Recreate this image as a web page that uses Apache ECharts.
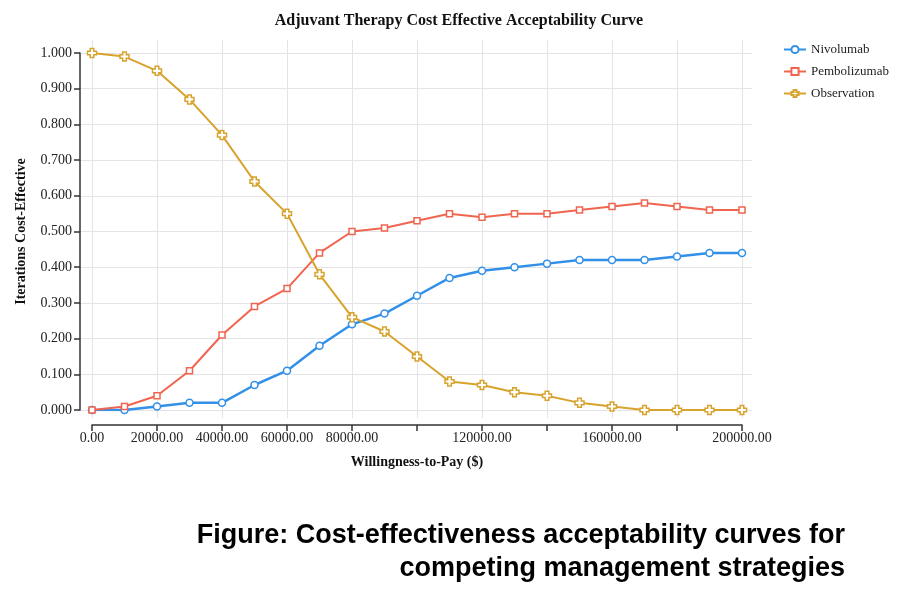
<!DOCTYPE html>
<html>
<head>
<meta charset="utf-8">
<script src="https://cdn.jsdelivr.net/npm/echarts@6/dist/echarts.min.js"></script>
<style>
html,body{margin:0;padding:0;background:#fff;}
#chart{width:906px;height:610px;}
</style>
</head>
<body>
<div id="chart"></div>
<script>
const wtp = [0,10000,20000,30000,40000,50000,60000,70000,80000,90000,100000,110000,120000,130000,140000,150000,160000,170000,180000,190000,200000];
const nivolumab = [0,0,0.01,0.02,0.02,0.07,0.11,0.18,0.24,0.27,0.32,0.37,0.39,0.40,0.41,0.42,0.42,0.42,0.43,0.44,0.44];
const pembolizumab = [0,0.01,0.04,0.11,0.21,0.29,0.34,0.44,0.50,0.51,0.53,0.55,0.54,0.55,0.55,0.56,0.57,0.58,0.57,0.56,0.56];
const observation = [1.00,0.99,0.95,0.87,0.77,0.64,0.55,0.38,0.26,0.22,0.15,0.08,0.07,0.05,0.04,0.02,0.01,0.00,0.00,0.00,0.00];
const xTicks = [0,20000,40000,60000,80000,100000,120000,140000,160000,180000,200000];
const xLabels = [0,20000,40000,60000,80000,120000,160000,200000];
const yTicks = [0,0.1,0.2,0.3,0.4,0.5,0.6,0.7,0.8,0.9,1.0];
const seriesNames = ['Nivolumab','Pembolizumab','Observation'];
const colors = ['#3290e8','#f0654f','#d8a32c'];

const serif = '"Liberation Serif","Times New Roman",serif';
const plus = 'path://M3,0 H7 V3 H10 V7 H7 V10 H3 V7 H0 V3 H3 Z';

function pairs(ys){ return wtp.map((x,i)=>[x, ys[i]]); }

const chart = echarts.init(document.getElementById('chart'), null, {renderer:'canvas'});
chart.setOption({
  backgroundColor:'#fff',
  animation:false,
  title:[
    {text:'Adjuvant Therapy Cost Effective Acceptability Curve', left:454, top:8, textAlign:'center',
     textStyle:{fontFamily:serif, fontWeight:'bold', fontSize:16, color:'#111'}}
  ],
  graphic:[
    {type:'text', x:845, y:519, silent:true,
     style:{text:'Figure: Cost-effectiveness acceptability curves for\ncompeting management strategies',
       align:'right', verticalAlign:'top', lineHeight:33,
       font:'bold 27px "Liberation Sans", Arial, sans-serif', fill:'#000'}}
  ],
  legend:{
    orient:'vertical', left:778, top:38, itemGap:9, itemWidth:22, itemHeight:9,
    data:seriesNames,
    textStyle:{fontFamily:serif, fontSize:13, color:'#222'}
  },
  grid:[
    {left:80, right:154, top:40, bottom:192, show:false},
    {left:92, right:164, top:53, bottom:200, show:false}
  ],
  xAxis:[
    {gridIndex:0, type:'value', min:-3692, max:203077,
     axisLine:{show:false, onZero:false}, axisLabel:{show:false},
     axisTick:{show:false, customValues:xTicks},
     splitLine:{show:true, lineStyle:{color:'#e4e4e8', width:1}}},
    {gridIndex:1, type:'value', min:0, max:200000, interval:20000, offset:15, position:'bottom',
     name:'Willingness-to-Pay ($)', nameLocation:'middle', nameGap:30,
     nameTextStyle:{fontFamily:serif, fontWeight:'bold', fontSize:14, color:'#111'},
     axisLine:{show:true, onZero:false, lineStyle:{color:'#333', width:1.5}},
     axisTick:{show:true, length:6, lineStyle:{color:'#333', width:1.5}, customValues:xTicks},
     axisLabel:{show:true, customValues:xLabels, fontFamily:serif, fontSize:14, color:'#222', margin:6,
       formatter:v=>Number(v).toFixed(2)},
     splitLine:{show:false}}
  ],
  yAxis:[
    {gridIndex:0, type:'value', min:-0.0224, max:1.0364,
     axisLine:{show:false, onZero:false}, axisLabel:{show:false},
     axisTick:{show:false, customValues:yTicks},
     splitLine:{show:true, lineStyle:{color:'#e4e4e8', width:1}}},
    {gridIndex:1, type:'value', min:0, max:1, interval:0.1, offset:12, position:'left',
     name:'Iterations Cost-Effective', nameLocation:'middle', nameGap:52,
     nameTextStyle:{fontFamily:serif, fontWeight:'bold', fontSize:14, color:'#111'},
     axisLine:{show:true, onZero:false, lineStyle:{color:'#333', width:1.5}},
     axisTick:{show:true, length:6, lineStyle:{color:'#333', width:1.5}},
     axisLabel:{show:true, fontFamily:serif, fontSize:14, color:'#222', margin:8,
       formatter:v=>Number(v).toFixed(3)},
     splitLine:{show:false}}
  ],
  series:[
    {name:seriesNames[0], type:'line', xAxisIndex:1, yAxisIndex:1, data:pairs(nivolumab),
     symbol:'circle', symbolSize:7, showAllSymbol:true,
     lineStyle:{color:colors[0], width:2.5}, itemStyle:{color:'#fff', borderColor:colors[0], borderWidth:1.5}, z:3},
    {name:seriesNames[1], type:'line', xAxisIndex:1, yAxisIndex:1, data:pairs(pembolizumab),
     symbol:'rect', symbolSize:6, showAllSymbol:true,
     lineStyle:{color:colors[1], width:2}, itemStyle:{color:'#fff', borderColor:colors[1], borderWidth:1.5}, z:4},
    {name:seriesNames[2], type:'line', xAxisIndex:1, yAxisIndex:1, data:pairs(observation),
     symbol:plus, symbolSize:9, showAllSymbol:true,
     lineStyle:{color:colors[2], width:2}, itemStyle:{color:'#fff', borderColor:colors[2], borderWidth:1.5}, z:5}
  ]
});
</script>
</body>
</html>
